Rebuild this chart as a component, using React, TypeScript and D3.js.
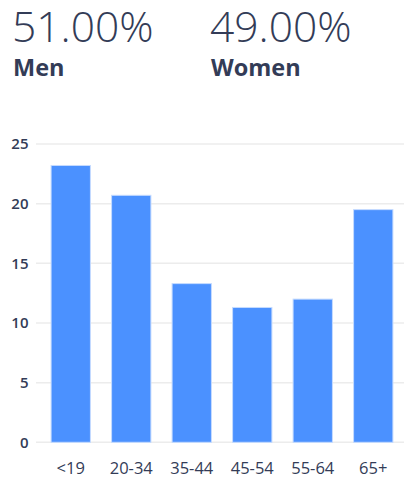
import React from "react";
import * as d3 from "d3";

const categories = ["<19", "20-34", "35-44", "45-54", "55-64", "65+"];
const values = [23.2, 20.7, 13.3, 11.3, 12.0, 19.5];
const yTicks = [0, 5, 10, 15, 20, 25];
const genderLabels = ["Men", "Women"];
const genderShares = ["51.00%", "49.00%"];

const W = 404;
const H = 477;
const TEXT = "#333c57";
const FONT = "'Open Sans', sans-serif";

export default function App() {
  const x = d3
    .scaleBand<string>()
    .domain(categories)
    .range([40.5, 403.5])
    .paddingInner(0.35)
    .paddingOuter(0.175);
  const y = d3.scaleLinear().domain([0, 25]).range([442.3, 144]);
  const headX = [12, 210];

  return (
    <svg
      width={W}
      height={H}
      style={{ position: "absolute", left: 0, top: 0, display: "block" }}
      fontFamily={FONT}
    >
      <rect width={W} height={H} fill="#fff" />
      {genderLabels.map((g, i) => (
        <g key={g}>
          <text x={headX[i]} y={42} fontSize={42.5} fontWeight={300} fill={TEXT}>
            {genderShares[i]}
          </text>
          <text x={headX[i] + 1} y={75.5} fontSize={23.5} fontWeight={700} fill={TEXT}>
            {g}
          </text>
        </g>
      ))}
      {yTicks.map((t) => (
        <g key={t}>
          <line x1={36} x2={W} y1={y(t)} y2={y(t)} stroke="#ececec" strokeWidth={1.5} />
          <text
            x={28.5}
            y={y(t)}
            dy="0.35em"
            textAnchor="end"
            fontSize={15}
            fontWeight={600}
            fill={TEXT}
          >
            {t}
          </text>
        </g>
      ))}
      {categories.map((c, i) => (
        <g key={c}>
          <rect
            x={x(c)!}
            y={y(values[i])}
            width={x.bandwidth()}
            height={y(0) - y(values[i])}
            fill="#4b91ff"
            stroke="#c5dbff"
            strokeWidth={1}
          />
          <text
            x={x(c)! + x.bandwidth() / 2}
            y={473.5}
            textAnchor="middle"
            fontSize={16.5}
            fill={TEXT}
          >
            {c}
          </text>
        </g>
      ))}
    </svg>
  );
}
